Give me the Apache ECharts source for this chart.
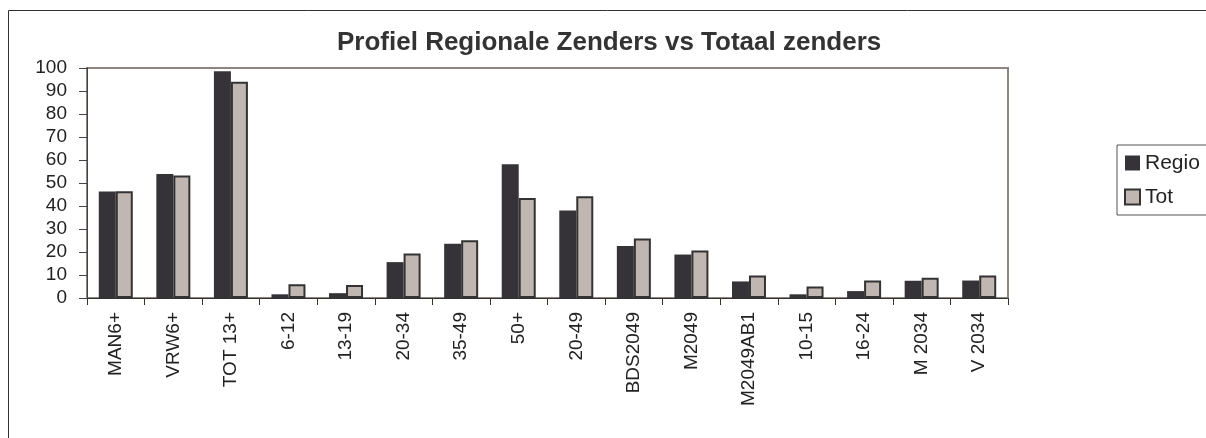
<!DOCTYPE html>
<html>
<head>
<meta charset="utf-8">
<script src="https://cdn.jsdelivr.net/npm/echarts@6/dist/echarts.min.js"></script>
<style>
  html, body { margin: 0; padding: 0; background: #fff; }
  #chart { width: 1206px; height: 438px; }
</style>
</head>
<body>
<div id="chart"></div>
<script>
var categories = ['MAN6+', 'VRW6+', 'TOT 13+', '6-12', '13-19', '20-34', '35-49', '50+', '20-49',
  'BDS2049', 'M2049', 'M2049AB1', '10-15', '16-24', 'M 2034', 'V 2034'];
var regio = [46.3, 53.9, 98.6, 1.6, 2.1, 15.6, 23.6, 58.2, 38.0, 22.6, 18.9, 7.2, 1.6, 3.0, 7.5, 7.6];
var tot = [46.4, 53.3, 94.0, 6.0, 5.6, 19.3, 25.1, 43.5, 44.2, 25.9, 20.7, 9.8, 5.0, 7.6, 8.8, 9.8];
var yTicks = [0, 10, 20, 30, 40, 50, 60, 70, 80, 90, 100];

var font = 'Liberation Sans, Arial, sans-serif';
var chart = echarts.init(document.getElementById('chart'));

var option = {
  animation: false,
  title: {
    text: 'Profiel Regionale Zenders vs Totaal zenders',
    left: 332,
    top: 25,
    textStyle: { fontFamily: font, fontSize: 26, fontWeight: 'bold', color: '#333' }
  },
  graphic: [{
    type: 'rect',
    shape: { x: 8.5, y: 10.5, width: 1250, height: 500 },
    style: { fill: 'none', stroke: '#333', lineWidth: 1 },
    silent: true
  }],
  legend: {
    orient: 'vertical',
    left: 1117,
    top: 145,
    padding: [7, 40, 7, 7],
    itemGap: 12,
    itemWidth: 15,
    itemHeight: 15,
    borderColor: '#555',
    borderWidth: 1,
    textStyle: { fontFamily: font, fontSize: 21, lineHeight: 22, color: '#222' },
    data: [
      { name: 'Regio', icon: 'rect', itemStyle: { color: '#353338', borderWidth: 0 } },
      { name: 'Tot', icon: 'rect', itemStyle: { color: '#c0b7b3', borderColor: '#333', borderWidth: 2 } }
    ]
  },
  grid: {
    left: 87,
    top: 68,
    width: 921,
    height: 230,
    show: true,
    borderColor: '#8f8480',
    borderWidth: 2,
    containLabel: false
  },
  xAxis: {
    type: 'category',
    data: categories,
    axisLine: { lineStyle: { color: '#333', width: 1 } },
    axisTick: { show: true, length: 7, lineStyle: { color: '#333' } },
    axisLabel: { rotate: 90, fontFamily: font, fontSize: 19, color: '#222', margin: 14, interval: 0 }
  },
  yAxis: {
    type: 'value',
    min: yTicks[0],
    max: yTicks[yTicks.length - 1],
    interval: 10,
    axisLine: { show: true, lineStyle: { color: '#444', width: 1 } },
    axisTick: { show: true, length: 8, lineStyle: { color: '#444' } },
    splitLine: { show: false },
    axisLabel: { fontFamily: font, fontSize: 19, color: '#222', margin: 20 }
  },
  series: [
    {
      name: 'Regio',
      type: 'bar',
      data: regio,
      barWidth: 17,
      barGap: '0%',
      itemStyle: { color: '#353338' }
    },
    {
      name: 'Tot',
      type: 'bar',
      data: tot,
      barWidth: 17,
      barGap: '0%',
      itemStyle: { color: '#c0b7b3', borderColor: '#333', borderWidth: 2 }
    }
  ]
};

chart.setOption(option);
</script>
</body>
</html>
